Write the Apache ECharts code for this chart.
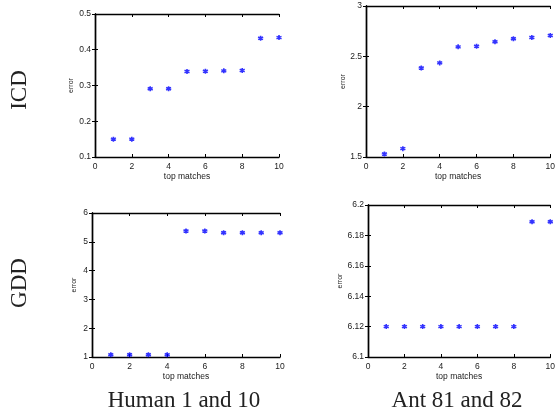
<!DOCTYPE html>
<html>
<head>
<meta charset="utf-8">
<script src="https://cdn.jsdelivr.net/npm/echarts@6/dist/echarts.min.js"></script>
<style>html,body{margin:0;padding:0;background:#fff}#c{width:558px;height:417px}</style>
</head>
<body>
<div id="c"></div>
<script>
var topMatches = [1, 2, 3, 4, 5, 6, 7, 8, 9, 10];
var xTicks = [0, 2, 4, 6, 8, 10];

var icdHuman = [0.15, 0.15, 0.291, 0.291, 0.339, 0.340, 0.341, 0.342, 0.432, 0.434];
var icdAnt = [1.53, 1.583, 2.385, 2.435, 2.594, 2.601, 2.644, 2.674, 2.687, 2.707];
var gddHuman = [1.08, 1.08, 1.08, 1.08, 5.375, 5.375, 5.317, 5.317, 5.317, 5.317];
var gddAnt = [6.12, 6.12, 6.12, 6.12, 6.12, 6.12, 6.12, 6.12, 6.189, 6.189];

var icdHumanTicks = [0.1, 0.2, 0.3, 0.4, 0.5];
var icdAntTicks = [1.5, 2, 2.5, 3];
var gddHumanTicks = [1, 2, 3, 4, 5, 6];
var gddAntTicks = [6.1, 6.12, 6.14, 6.16, 6.18, 6.2];

var rowLabels = ['ICD', 'GDD'];
var colLabels = ['Human 1 and 10', 'Ant 81 and 82'];
var xName = 'top matches';
var yName = 'error';

var panels = [
  {data: icdHuman, ticks: icdHumanTicks, grid: {left: 95, top: 14, width: 184, height: 143}, gap: 20},
  {data: icdAnt, ticks: icdAntTicks, grid: {left: 366, top: 6, width: 188, height: 151}, gap: 17},
  {data: gddHuman, ticks: gddHumanTicks, grid: {left: 92, top: 213, width: 188, height: 144}, gap: 14},
  {data: gddAnt, ticks: gddAntTicks, grid: {left: 368, top: 205, width: 185, height: 152}, gap: 24}
];

var lineStyle = {color: '#000', width: 1.4};
var tickStyle = {show: true, inside: true, length: 3, lineStyle: {color: '#000', width: 1}};
var labelFont = {fontFamily: 'Liberation Sans', fontSize: 8.5, color: '#222'};
var star = 'path://M0,-1L0,1M-0.87,-0.5L0.87,0.5M-0.87,0.5L0.87,-0.5';
function fmt(v) { return String(parseFloat(Number(v).toFixed(6))); }

var grids = [], xAxes = [], yAxes = [], series = [];
panels.forEach(function (p, i) {
  grids.push(p.grid);
  var ymin = p.ticks[0], ymax = p.ticks[p.ticks.length - 1];
  var yint = p.ticks[1] - p.ticks[0];
  var xmin = xTicks[0], xmax = xTicks[xTicks.length - 1], xint = xTicks[1] - xTicks[0];
  xAxes.push({
    gridIndex: i, type: 'value', position: 'bottom', min: xmin, max: xmax, interval: xint,
    axisLine: {show: true, lineStyle: lineStyle}, axisTick: tickStyle,
    axisLabel: Object.assign({margin: 5, formatter: fmt}, labelFont), splitLine: {show: false},
    name: xName, nameLocation: 'middle', nameGap: 15,
    nameTextStyle: {fontFamily: 'Liberation Sans', fontSize: 8.5, color: '#222'}
  });
  xAxes.push({
    gridIndex: i, type: 'value', position: 'top', min: xmin, max: xmax, interval: xint,
    axisLine: {show: true, lineStyle: lineStyle}, axisTick: tickStyle,
    axisLabel: {show: false}, splitLine: {show: false}
  });
  yAxes.push({
    gridIndex: i, type: 'value', position: 'left', min: ymin, max: ymax, interval: yint,
    axisLine: {show: true, lineStyle: lineStyle}, axisTick: tickStyle,
    axisLabel: Object.assign({margin: 4, formatter: fmt}, labelFont), splitLine: {show: false},
    name: yName, nameLocation: 'middle', nameGap: p.gap, nameRotate: 90,
    nameTextStyle: {fontFamily: 'Liberation Sans', fontSize: 7, color: '#222'}
  });
  yAxes.push({
    gridIndex: i, type: 'value', position: 'right', min: ymin, max: ymax, interval: yint,
    axisLine: {show: true, lineStyle: lineStyle}, axisTick: tickStyle,
    axisLabel: {show: false}, splitLine: {show: false}
  });
  series.push({
    type: 'scatter', xAxisIndex: 2 * i, yAxisIndex: 2 * i,
    symbol: star, symbolSize: 5,
    itemStyle: {color: '#0000ff', borderColor: '#0000ff', borderWidth: 1.6},
    data: topMatches.map(function (x, k) { return [x, p.data[k]]; })
  });
});

var serif = 'Liberation Serif';
var graphics = [
  {type: 'text', x: 20, y: 90, rotation: Math.PI / 2,
   style: {text: rowLabels[0], font: '23px "' + serif + '"', fill: '#222', align: 'center', verticalAlign: 'middle'}},
  {type: 'text', x: 20, y: 283, rotation: Math.PI / 2,
   style: {text: rowLabels[1], font: '23px "' + serif + '"', fill: '#222', align: 'center', verticalAlign: 'middle'}},
  {type: 'text', x: 184, y: 401,
   style: {text: colLabels[0], font: '23px "' + serif + '"', fill: '#222', align: 'center', verticalAlign: 'middle'}},
  {type: 'text', x: 457, y: 401,
   style: {text: colLabels[1], font: '23px "' + serif + '"', fill: '#222', align: 'center', verticalAlign: 'middle'}}
];

var chart = echarts.init(document.getElementById('c'));
chart.setOption({
  animation: false,
  grid: grids, xAxis: xAxes, yAxis: yAxes, series: series,
  graphic: graphics
});
</script>
</body>
</html>
